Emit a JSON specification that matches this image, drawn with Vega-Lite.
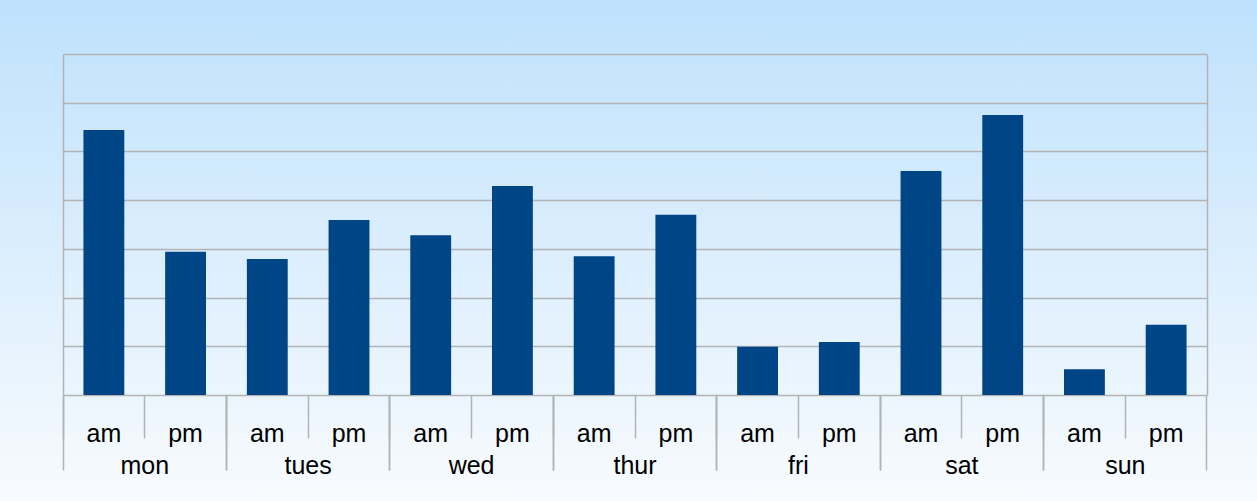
{
  "$schema": "https://vega.github.io/schema/vega-lite/v6.json",
  "width": 1144,
  "height": 341,
  "autosize": {"type": "none"},
  "padding": {"left": 63, "top": 54, "right": 50, "bottom": 106},
  "background": "#e0effd",
  "config": {"font": "Liberation Sans"},
  "view": {
    "strokeWidth": 230,
    "fill": {"gradient": "linear", "x1": 0, "y1": -0.158, "x2": 0, "y2": 1.311, "stops": [{"offset": 0, "color": "#bee1fc"}, {"offset": 1, "color": "#f8fbfe"}]},
    "stroke": {"gradient": "linear", "x1": 0, "y1": -0.158, "x2": 0, "y2": 1.311, "stops": [{"offset": 0, "color": "#bee1fc"}, {"offset": 1, "color": "#f8fbfe"}]}
  },
  "data": {
    "values": [
      {"day": "mon", "half": "am", "slot": "mon am", "value": 5.44},
      {"day": "mon", "half": "pm", "slot": "mon pm", "value": 2.94},
      {"day": "tues", "half": "am", "slot": "tues am", "value": 2.79},
      {"day": "tues", "half": "pm", "slot": "tues pm", "value": 3.59},
      {"day": "wed", "half": "am", "slot": "wed am", "value": 3.28},
      {"day": "wed", "half": "pm", "slot": "wed pm", "value": 4.29},
      {"day": "thur", "half": "am", "slot": "thur am", "value": 2.85},
      {"day": "thur", "half": "pm", "slot": "thur pm", "value": 3.70},
      {"day": "fri", "half": "am", "slot": "fri am", "value": 0.99},
      {"day": "fri", "half": "pm", "slot": "fri pm", "value": 1.09},
      {"day": "sat", "half": "am", "slot": "sat am", "value": 4.60},
      {"day": "sat", "half": "pm", "slot": "sat pm", "value": 5.75},
      {"day": "sun", "half": "am", "slot": "sun am", "value": 0.53},
      {"day": "sun", "half": "pm", "slot": "sun pm", "value": 1.44}
    ]
  },
  "resolve": {"scale": {"x": "independent", "y": "independent"}},
  "layer": [
    {
      "mark": {"type": "bar", "color": "#004586", "width": {"band": 0.5}},
      "encoding": {
        "x": {
          "field": "slot", "type": "nominal", "sort": null,
          "scale": {"paddingInner": 0, "paddingOuter": 0},
          "axis": {"orient": "bottom", "title": null, "labelExpr": "split(datum.value, ' ')[1]", "labelAngle": 0, "bandPosition": 0, "domain": false, "ticks": true, "tickSize": 43, "tickColor": "#b3b3b3", "tickWidth": 1.5, "labelFont": "Liberation Sans", "labelFontSize": 25, "labelColor": "#000000", "labelBaseline": "alphabetic", "labelPadding": 3, "labelOverlap": false}
        },
        "y": {
          "field": "value", "type": "quantitative",
          "scale": {"domain": [0, 7], "nice": false, "zero": true},
          "axis": {"orient": "left", "title": null, "labels": false, "ticks": false, "domain": true, "domainColor": "#b3b3b3", "domainWidth": 1.5, "values": [0, 1, 2, 3, 4, 5, 6, 7], "grid": true, "gridColor": "#b3b3b3", "gridWidth": 1.5}
        }
      }
    },
    {
      "mark": {"type": "bar", "opacity": 0},
      "encoding": {
        "x": {
          "field": "day", "type": "nominal", "sort": null,
          "scale": {"paddingInner": 0, "paddingOuter": 0},
          "axis": {"orient": "bottom", "title": null, "labelAngle": 0, "bandPosition": 0, "domain": false, "ticks": true, "tickSize": 75, "tickColor": "#b3b3b3", "tickWidth": 1.5, "labelFont": "Liberation Sans", "labelFontSize": 25, "labelColor": "#000000", "labelBaseline": "alphabetic", "labelPadding": 3, "labelOverlap": false}
        },
        "y": {
          "field": "value", "type": "quantitative",
          "scale": {"domain": [0, 7], "nice": false, "zero": true},
          "axis": {"orient": "right", "title": null, "labels": false, "ticks": false, "grid": false, "domain": true, "domainColor": "#b3b3b3", "domainWidth": 1.5}
        }
      }
    },
    {
      "mark": {"type": "bar", "opacity": 0},
      "encoding": {
        "x": {
          "field": "day", "type": "nominal", "sort": null,
          "scale": {"paddingInner": 0, "paddingOuter": 0},
          "axis": {"orient": "bottom", "title": null, "labels": false, "bandPosition": 1, "domain": false, "ticks": true, "tickSize": 75, "tickColor": "#b3b3b3", "tickWidth": 1.5}
        }
      }
    }
  ]
}
